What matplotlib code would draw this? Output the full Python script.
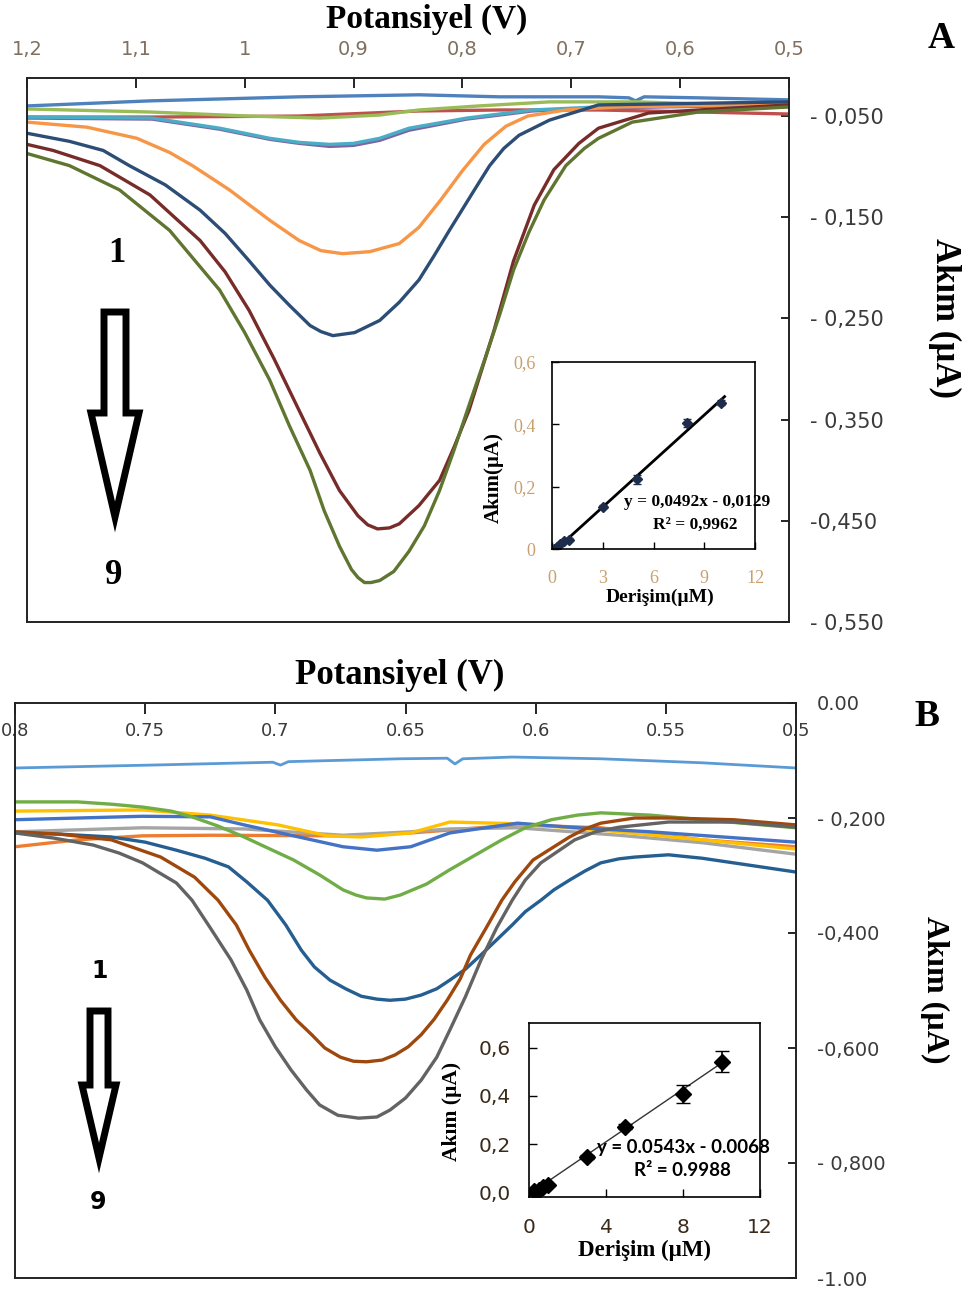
import numpy as np
import matplotlib.pyplot as plt
from matplotlib.patches import Polygon

W, H = 971, 1293
SERIF = 'Liberation Serif'
SANS = 'DejaVu Sans'

# ---------------- panel A : voltammograms (V, uA)
a_colors = ['#4F81BD', '#C0504D', '#9BBB59', '#8064A2', '#4BACC6',
            '#F79646', '#2C4D75', '#772C2A', '#5F7530']

a1_v = [1.200, 1.087, 0.950, 0.840, 0.766, 0.675, 0.647, 0.641, 0.633, 0.583, 0.500]
a1_i = [-0.040, -0.035, -0.031, -0.029, -0.031, -0.031, -0.032, -0.035, -0.031, -0.032, -0.034]

a2_v = [1.200, 1.087, 0.950, 0.840, 0.766, 0.675, 0.583, 0.500]
a2_i = [-0.051, -0.051, -0.050, -0.045, -0.044, -0.044, -0.046, -0.048]

a3_v = [1.200, 1.087, 0.996, 0.931, 0.876, 0.840, 0.785, 0.720, 0.638, 0.500]
a3_i = [-0.043, -0.046, -0.050, -0.052, -0.049, -0.044, -0.040, -0.036, -0.036, -0.041]

a4_v = [1.200, 1.085, 1.023, 0.977, 0.950, 0.922, 0.900, 0.876, 0.849, 0.796, 0.736, 0.675, 0.500]
a4_i = [-0.052, -0.053, -0.063, -0.073, -0.077, -0.080, -0.079, -0.074, -0.064, -0.053, -0.045, -0.042, -0.039]

a5_v = [1.200, 1.085, 1.023, 0.977, 0.950, 0.922, 0.900, 0.876, 0.849, 0.796, 0.736, 0.675, 0.500]
a5_i = [-0.051, -0.052, -0.062, -0.072, -0.076, -0.078, -0.077, -0.072, -0.062, -0.052, -0.044, -0.041, -0.038]

a6_v = [1.200, 1.145, 1.099, 1.069, 1.048, 1.014, 0.977, 0.950, 0.930, 0.910, 0.885, 0.858,
        0.840, 0.820, 0.800, 0.780, 0.760, 0.740, 0.705, 0.656, 0.500]
a6_i = [-0.056, -0.061, -0.072, -0.086, -0.099, -0.123, -0.153, -0.173, -0.183, -0.186, -0.184, -0.176,
        -0.160, -0.133, -0.104, -0.078, -0.060, -0.050, -0.044, -0.041, -0.038]

a7_v = [1.200, 1.161, 1.130, 1.106, 1.073, 1.041, 1.018, 0.996, 0.977, 0.959, 0.940, 0.930, 0.919,
        0.899, 0.876, 0.858, 0.840, 0.826, 0.812, 0.789, 0.775, 0.762, 0.748, 0.720, 0.675, 0.500]
a7_i = [-0.067, -0.075, -0.084, -0.099, -0.118, -0.143, -0.166, -0.193, -0.217, -0.237, -0.257, -0.263, -0.267,
        -0.264, -0.252, -0.234, -0.212, -0.188, -0.163, -0.123, -0.099, -0.082, -0.069, -0.054, -0.039, -0.036]

a8_v = [1.200, 1.176, 1.133, 1.087, 1.041, 1.018, 0.996, 0.973, 0.950, 0.931, 0.913, 0.896, 0.887,
        0.878, 0.867, 0.858, 0.840, 0.821, 0.808, 0.794, 0.771, 0.753, 0.734, 0.716, 0.693, 0.675,
        0.629, 0.583, 0.500]
a8_i = [-0.078, -0.084, -0.099, -0.128, -0.173, -0.204, -0.242, -0.290, -0.341, -0.383, -0.420, -0.445, -0.454,
        -0.458, -0.457, -0.453, -0.435, -0.410, -0.378, -0.341, -0.262, -0.193, -0.138, -0.103, -0.077, -0.062,
        -0.047, -0.044, -0.039]

a9_v = [1.200, 1.161, 1.115, 1.069, 1.023, 1.000, 0.977, 0.959, 0.940, 0.927, 0.913, 0.902, 0.896,
        0.890, 0.884, 0.876, 0.863, 0.849, 0.835, 0.821, 0.808, 0.794, 0.780, 0.766, 0.753, 0.739,
        0.725, 0.705, 0.688, 0.675, 0.644, 0.583, 0.500]
a9_i = [-0.087, -0.099, -0.123, -0.163, -0.222, -0.264, -0.311, -0.356, -0.400, -0.440, -0.475, -0.498, -0.506,
        -0.511, -0.511, -0.509, -0.500, -0.480, -0.455, -0.420, -0.381, -0.336, -0.292, -0.247, -0.202, -0.165,
        -0.133, -0.099, -0.082, -0.072, -0.056, -0.046, -0.041]

a_xticks = [1.2, 1.1, 1.0, 0.9, 0.8, 0.7, 0.6, 0.5]
a_xlabels = ['1,2', '1,1', '1', '0,9', '0,8', '0,7', '0,6', '0,5']
a_yticks = [-0.05, -0.15, -0.25, -0.35, -0.45, -0.55]
a_ylabels = ['- 0,050', '- 0,150', '- 0,250', '- 0,350', '-0,450', '- 0,550']

# calibration inset A
ia_conc = [0.1, 0.3, 0.5, 0.7, 1.0, 3.0, 5.0, 8.0, 10.0]
ia_cur = [0.0, 0.008, 0.015, 0.025, 0.03, 0.136, 0.224, 0.404, 0.469]
ia_err = [0.004, 0.004, 0.004, 0.004, 0.004, 0.006, 0.015, 0.012, 0.008]
ia_slope, ia_icpt = 0.0492, -0.0129

# ---------------- panel B
b_colors = ['#5B9BD5', '#ED7D31', '#A5A5A5', '#FFC000', '#4472C4',
            '#70AD47', '#255E91', '#9E480E', '#636363']

b1_v = [0.800, 0.748, 0.701, 0.698, 0.695, 0.652, 0.634, 0.631, 0.628, 0.609, 0.575, 0.536, 0.500]
b1_i = [-0.113, -0.108, -0.103, -0.108, -0.102, -0.097, -0.096, -0.106, -0.097, -0.094, -0.097, -0.104, -0.113]

b2_v = [0.800, 0.776, 0.751, 0.725, 0.674, 0.648, 0.607, 0.575, 0.536, 0.500]
b2_i = [-0.250, -0.238, -0.231, -0.230, -0.231, -0.226, -0.212, -0.217, -0.238, -0.250]

b3_v = [0.800, 0.751, 0.712, 0.674, 0.648, 0.633, 0.607, 0.568, 0.536, 0.500]
b3_i = [-0.224, -0.217, -0.219, -0.230, -0.224, -0.219, -0.217, -0.230, -0.243, -0.263]

b4_v = [0.800, 0.751, 0.725, 0.699, 0.680, 0.667, 0.648, 0.633, 0.607, 0.575, 0.536, 0.500]
b4_i = [-0.188, -0.186, -0.195, -0.212, -0.231, -0.233, -0.226, -0.207, -0.210, -0.221, -0.238, -0.254]

b5_v = [0.800, 0.751, 0.725, 0.712, 0.693, 0.674, 0.661, 0.648, 0.633, 0.607, 0.587, 0.556, 0.500]
b5_i = [-0.203, -0.197, -0.198, -0.212, -0.231, -0.250, -0.256, -0.250, -0.226, -0.209, -0.216, -0.224, -0.242]

b6_v = [0.800, 0.776, 0.763, 0.751, 0.740, 0.732, 0.722, 0.712, 0.703, 0.693, 0.683, 0.674, 0.669,
        0.665, 0.658, 0.652, 0.642, 0.633, 0.623, 0.613, 0.604, 0.594, 0.584, 0.575, 0.556, 0.536, 0.500]
b6_i = [-0.172, -0.172, -0.176, -0.181, -0.188, -0.198, -0.214, -0.233, -0.252, -0.273, -0.299, -0.325, -0.334,
        -0.339, -0.341, -0.334, -0.315, -0.290, -0.264, -0.238, -0.217, -0.203, -0.195, -0.191, -0.195, -0.203, -0.217]

b7_v = [0.800, 0.783, 0.763, 0.750, 0.738, 0.727, 0.718, 0.711, 0.703, 0.696, 0.690, 0.685, 0.679,
        0.673, 0.667, 0.661, 0.656, 0.650, 0.644, 0.638, 0.633, 0.627, 0.621, 0.615, 0.609, 0.604,
        0.598, 0.593, 0.587, 0.581, 0.575, 0.568, 0.562, 0.549, 0.536, 0.524, 0.500]
b7_i = [-0.226, -0.228, -0.233, -0.242, -0.256, -0.270, -0.285, -0.311, -0.343, -0.386, -0.430, -0.459, -0.482,
        -0.497, -0.510, -0.515, -0.517, -0.515, -0.508, -0.497, -0.482, -0.463, -0.438, -0.412, -0.386, -0.363,
        -0.343, -0.325, -0.308, -0.292, -0.278, -0.271, -0.268, -0.264, -0.270, -0.278, -0.294]

b8_v = [0.800, 0.783, 0.763, 0.744, 0.731, 0.722, 0.715, 0.710, 0.704, 0.698, 0.692, 0.686, 0.681,
        0.675, 0.670, 0.665, 0.659, 0.654, 0.649, 0.644, 0.639, 0.634, 0.629, 0.625, 0.619, 0.613,
        0.608, 0.601, 0.587, 0.581, 0.575, 0.562, 0.549, 0.524, 0.500]
b8_i = [-0.224, -0.228, -0.238, -0.268, -0.303, -0.343, -0.386, -0.430, -0.477, -0.517, -0.551, -0.577, -0.600,
        -0.616, -0.623, -0.624, -0.621, -0.612, -0.598, -0.577, -0.550, -0.517, -0.480, -0.438, -0.391, -0.343,
        -0.311, -0.273, -0.233, -0.219, -0.209, -0.200, -0.200, -0.203, -0.212]

b9_v = [0.800, 0.785, 0.770, 0.760, 0.751, 0.738, 0.732, 0.725, 0.717, 0.711, 0.706, 0.700, 0.694,
        0.688, 0.683, 0.676, 0.668, 0.661, 0.656, 0.650, 0.644, 0.638, 0.633, 0.627, 0.621, 0.615,
        0.609, 0.604, 0.598, 0.585, 0.577, 0.568, 0.549, 0.524, 0.500]
b9_i = [-0.226, -0.235, -0.247, -0.261, -0.278, -0.313, -0.343, -0.391, -0.447, -0.499, -0.551, -0.598, -0.638,
        -0.673, -0.699, -0.717, -0.722, -0.720, -0.708, -0.687, -0.656, -0.616, -0.569, -0.511, -0.447, -0.391,
        -0.343, -0.308, -0.278, -0.238, -0.224, -0.216, -0.207, -0.207, -0.216]

b_xticks = [0.8, 0.75, 0.7, 0.65, 0.6, 0.55, 0.5]
b_xlabels = ['0.8', '0.75', '0.7', '0.65', '0.6', '0.55', '0.5']
b_yticks = [0.0, -0.2, -0.4, -0.6, -0.8, -1.0]
b_ylabels = ['0.00', '- 0,200', '-0,400', '-0,600', '- 0,800', '-1.00']

# calibration inset B
ib_conc = [0.25, 0.5, 0.75, 1.0, 3.0, 5.0, 8.0, 10.0]
ib_cur = [0.005, 0.012, 0.025, 0.032, 0.149, 0.273, 0.408, 0.542]
ib_err = [0.004, 0.004, 0.004, 0.004, 0.008, 0.010, 0.036, 0.043]
ib_slope, ib_icpt = 0.0543, -0.0068


def rect(x0, y0, x1, y1):
    # pixel box of the reference -> figure fraction
    return [x0 / W, 1 - y1 / H, (x1 - x0) / W, (y1 - y0) / H]


def ftext(px, py, s, **kw):
    fig.text(px / W, 1 - py / H, s, ha='center', va='center', **kw)


def hollow_arrow(cx, top, wing, tip, half, wing_half, lw):
    pts = [(cx - half, top), (cx + half, top), (cx + half, wing), (cx + wing_half, wing),
           (cx, tip), (cx - wing_half, wing), (cx - half, wing)]
    pts = [(x / W, 1 - y / H) for x, y in pts]
    fig.patches.append(Polygon(pts, closed=True, transform=fig.transFigure, facecolor='white',
                               edgecolor='black', lw=lw, joinstyle='miter'))


fig = plt.figure(figsize=(W / 100, H / 100), dpi=100)

# ---------------- panel A
axA = fig.add_axes(rect(27, 78, 789, 622))
for k, (v, i) in enumerate([(a1_v, a1_i), (a2_v, a2_i), (a3_v, a3_i), (a4_v, a4_i), (a5_v, a5_i),
                            (a6_v, a6_i), (a7_v, a7_i), (a8_v, a8_i), (a9_v, a9_i)]):
    axA.plot(v, i, color=a_colors[k], lw=2.4, solid_capstyle='round', solid_joinstyle='round')
axA.set_xlim(1.2, 0.5)
axA.set_ylim(-0.55, -0.0124)
axA.xaxis.tick_top()
axA.set_xticks(a_xticks)
axA.set_xticklabels(a_xlabels, family=SANS)
axA.yaxis.tick_right()
axA.set_yticks(a_yticks)
axA.set_yticklabels(a_ylabels, family=SANS)
axA.tick_params(axis='x', direction='in', length=7, width=1.2, pad=14, labelsize=14, labelcolor='#7f7060')
axA.tick_params(axis='y', direction='in', length=6, width=1.2, pad=15, labelsize=15, labelcolor='#3a3a3a')
for s in axA.spines.values():
    s.set_linewidth(1.4)
    s.set_color('#222222')

ftext(427, 19, 'Potansiyel (V)', fontsize=24, fontweight='bold', family=SERIF)
ftext(941, 38, 'A', fontsize=27, fontweight='bold', family=SERIF)
ftext(945, 318, 'Akım (µA)', rotation=270, fontsize=25, fontweight='bold', family=SERIF)
ftext(117, 253, '1', fontsize=25, fontweight='bold', family=SERIF)
ftext(114, 576, '9', fontsize=25, fontweight='bold', family=SERIF)
hollow_arrow(115, 312, 413, 517, 11, 24, 5)

# inset A
iA = fig.add_axes(rect(552, 362, 755, 549))
iA.errorbar(ia_conc, ia_cur, yerr=ia_err, fmt='D', ms=5, color='#1f2d4d', ecolor='#1f2d4d',
            elinewidth=1, capsize=3)
xx = np.array([0.3, 10.2])
iA.plot(xx, ia_slope * xx + ia_icpt, color='black', lw=2)
iA.set_xlim(0, 12)
iA.set_ylim(0, 0.6)
iA.set_xticks([0, 3, 6, 9, 12])
iA.set_xticklabels(['0', '3', '6', '9', '12'], family=SERIF)
iA.set_yticks([0, 0.2, 0.4, 0.6])
iA.set_yticklabels(['0', '0,2', '0,4', '0,6'], family=SERIF)
iA.tick_params(direction='in', length=5, width=1, labelsize=13, labelcolor='#c8a070')
iA.tick_params(axis='x', pad=15)
iA.tick_params(axis='y', pad=12)
for s in iA.spines.values():
    s.set_linewidth(1.2)
ftext(494, 478, 'Akım(µA)', rotation=90, fontsize=15, fontweight='bold', family=SERIF)
ftext(660, 597, 'Derişim(µM)', fontsize=14, fontweight='bold', family=SERIF)
ftext(697, 502, 'y = 0,0492x - 0,0129', fontsize=12.5, fontweight='bold', family=SERIF)
ftext(695, 525, 'R² = 0,9962', fontsize=12.5, fontweight='bold', family=SERIF)

# ---------------- panel B
axB = fig.add_axes(rect(15, 703, 796, 1278))
for k, (v, i) in enumerate([(b1_v, b1_i), (b2_v, b2_i), (b3_v, b3_i), (b4_v, b4_i), (b5_v, b5_i),
                            (b6_v, b6_i), (b7_v, b7_i), (b8_v, b8_i), (b9_v, b9_i)]):
    axB.plot(v, i, color=b_colors[k], lw=2.4 if k else 2.0, solid_capstyle='round', solid_joinstyle='round')
axB.set_xlim(0.8, 0.5)
axB.set_ylim(-1.0, 0.0)
axB.xaxis.tick_top()
axB.set_xticks(b_xticks)
axB.set_xticklabels(b_xlabels, family=SANS)
axB.yaxis.tick_right()
axB.set_yticks(b_yticks)
axB.set_yticklabels(b_ylabels, family=SANS)
axB.tick_params(axis='x', direction='in', length=8, width=1.2, pad=-27, labelsize=13, labelcolor='#3a3a3a')
axB.tick_params(axis='y', direction='in', length=6, width=1.2, pad=15, labelsize=14, labelcolor='#3a3a3a')
for s in axB.spines.values():
    s.set_linewidth(1.4)
    s.set_color('#222222')

ftext(400, 675, 'Potansiyel (V)', fontsize=25, fontweight='bold', family=SERIF)
ftext(927, 716, 'B', fontsize=27, fontweight='bold', family=SERIF)
ftext(935, 990, 'Akım (µA)', rotation=270, fontsize=23, fontweight='bold', family=SERIF)
ftext(100, 971, '1', fontsize=17, fontweight='bold', family='DejaVu Sans')
ftext(98, 1202, '9', fontsize=17, fontweight='bold', family='DejaVu Sans')
hollow_arrow(99, 1011, 1085, 1158, 9, 17, 5)

# inset B
iB = fig.add_axes(rect(529, 1023, 760, 1197))
xx = np.array([0.1, 10.0])
iB.plot(xx, ib_slope * xx + ib_icpt, color='#333333', lw=1)
iB.errorbar(ib_conc, ib_cur, yerr=ib_err, fmt='D', ms=8, color='black', ecolor='black',
            elinewidth=1.2, capsize=5)
iB.set_xlim(0, 12)
iB.set_ylim(-0.018, 0.702)
iB.set_xticks([0, 4, 8, 12])
iB.set_xticklabels(['0', '4', '8', '12'], family=SANS)
iB.set_yticks([0, 0.2, 0.4, 0.6])
iB.set_yticklabels(['0,0', '0,2', '0,4', '0,6'], family=SANS)
iB.tick_params(direction='in', length=6, width=1, labelsize=14.5, labelcolor='#3a2a1a')
iB.tick_params(axis='x', pad=15)
iB.tick_params(axis='y', pad=13)
for s in iB.spines.values():
    s.set_linewidth(1.2)
ftext(452, 1111, 'Akım (µA)', rotation=90, fontsize=15.5, fontweight='bold', family=SERIF)
ftext(645, 1250, 'Derişim (µM)', fontsize=16.5, fontweight='bold', family=SERIF)
ftext(683, 1147, 'y = 0.0543x - 0.0068', fontsize=13.5, fontweight='bold', family='Lato')
ftext(682, 1170, 'R² = 0.9988', fontsize=13.5, fontweight='bold', family='Lato')

fig.savefig('out.png', dpi=100)
